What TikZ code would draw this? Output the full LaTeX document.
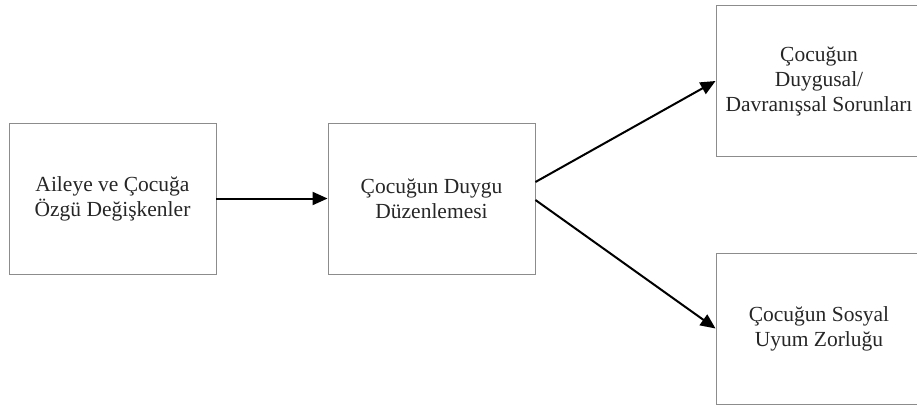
\documentclass[tikz,border=0pt]{standalone}
\usepackage{fontspec}
\setmainfont{Liberation Serif}
\usetikzlibrary{arrows.meta}
\begin{document}
\begin{tikzpicture}[x=1pt,y=-1pt,
  box/.style={draw=black!45,line width=0.9pt,minimum width=207pt,minimum height=151pt,
    align=center,inner sep=0pt,font=\fontsize{21.5}{25}\selectfont,text=black!85},
  bigbox/.style={box,minimum width=206pt},
  arr/.style={line width=2pt,-{Triangle[length=15pt,width=13pt]}}]
\useasboundingbox (0,0) rectangle (917,407);
\begin{scope}
\clip (0,0) rectangle (917,407);
\node[box] (b1) at (112.5,198.5) {Aileye ve Çocuğa\\Özgü Değişkenler};
\node[box] (b2) at (431.5,198.5) {Çocuğun Duygu\\Düzenlemesi};
\node[bigbox] (b3) at (819,81) {Çocuğun\\Duygusal/\\Davranışsal Sorunları};
\node[bigbox] (b4) at (819,328.5) {Çocuğun Sosyal\\Uyum Zorluğu};
\end{scope}
\draw[arr] (b1.east) -- (b2.west);
\draw[arr] ([yshift=16.5pt]b2.east) -- (b3.west);
\draw[arr] ([yshift=-1.5pt]b2.east) -- (b4.west);
\end{tikzpicture}
\end{document}
